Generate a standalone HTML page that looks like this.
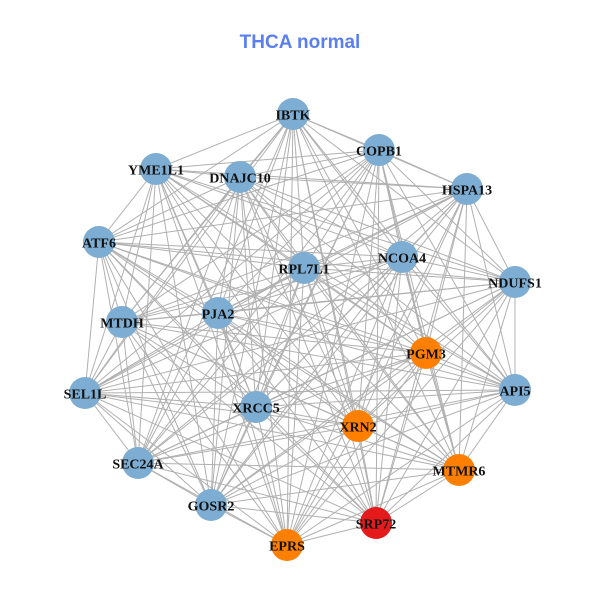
<!DOCTYPE html>
<html><head><meta charset="utf-8"><style>
html,body{margin:0;padding:0;background:#fff;}
svg{display:block}
.t{font-family:"Liberation Sans",sans-serif;font-weight:bold;font-size:19px;fill:#5b7ff0}
.l{font-family:"Liberation Serif",serif;font-weight:bold;font-size:14px;fill:#111}
</style></head><body>
<svg id="s" width="600" height="600" xmlns="http://www.w3.org/2000/svg">
<rect width="600" height="600" fill="#fff"/>
<text class="t" x="300" y="48" text-anchor="middle">THCA normal</text>
<g id="e" stroke="#b0b0b0" stroke-width="1"></g>
<g id="n"></g>
</svg>
<script>
var N=[["IBTK",293,114,"#7eadd3"],["COPB1",379,150,"#7eadd3"],["YME1L1",156,169,"#7eadd3"],["DNAJC10",240,177,"#7eadd3"],["HSPA13",467,189,"#7eadd3"],["ATF6",99,242,"#7eadd3"],["NCOA4",402,257,"#7eadd3"],["RPL7L1",304,268,"#7eadd3"],["NDUFS1",515,282,"#7eadd3"],["MTDH",122,322,"#7eadd3"],["PJA2",218,313,"#7eadd3"],["PGM3",426,353,"#ff7f00"],["SEL1L",85,393,"#7eadd3"],["API5",515,390,"#7eadd3"],["XRCC5",256,407,"#7eadd3"],["XRN2",358,426,"#ff7f00"],["SEC24A",138,463,"#7eadd3"],["MTMR6",459,470,"#ff7f00"],["GOSR2",211,505,"#7eadd3"],["SRP72",376,523,"#e41a1c"],["EPRS",287,545,"#ff7f00"]];
var ns="http://www.w3.org/2000/svg",e=document.getElementById("e"),g=document.getElementById("n");
for(var i=0;i<N.length;i++)for(var j=i+1;j<N.length;j++){var l=document.createElementNS(ns,"line");l.setAttribute("x1",N[i][1]);l.setAttribute("y1",N[i][2]);l.setAttribute("x2",N[j][1]);l.setAttribute("y2",N[j][2]);e.appendChild(l);}
N.forEach(function(d){var c=document.createElementNS(ns,"circle");c.setAttribute("cx",d[1]);c.setAttribute("cy",d[2]);c.setAttribute("r",16);c.setAttribute("fill",d[3]);g.appendChild(c);});
N.forEach(function(d){var t=document.createElementNS(ns,"text");t.setAttribute("x",d[1]);t.setAttribute("y",d[2]+5.5);t.setAttribute("text-anchor","middle");t.setAttribute("class","l");t.textContent=d[0];g.appendChild(t);});
</script>
</body></html>
